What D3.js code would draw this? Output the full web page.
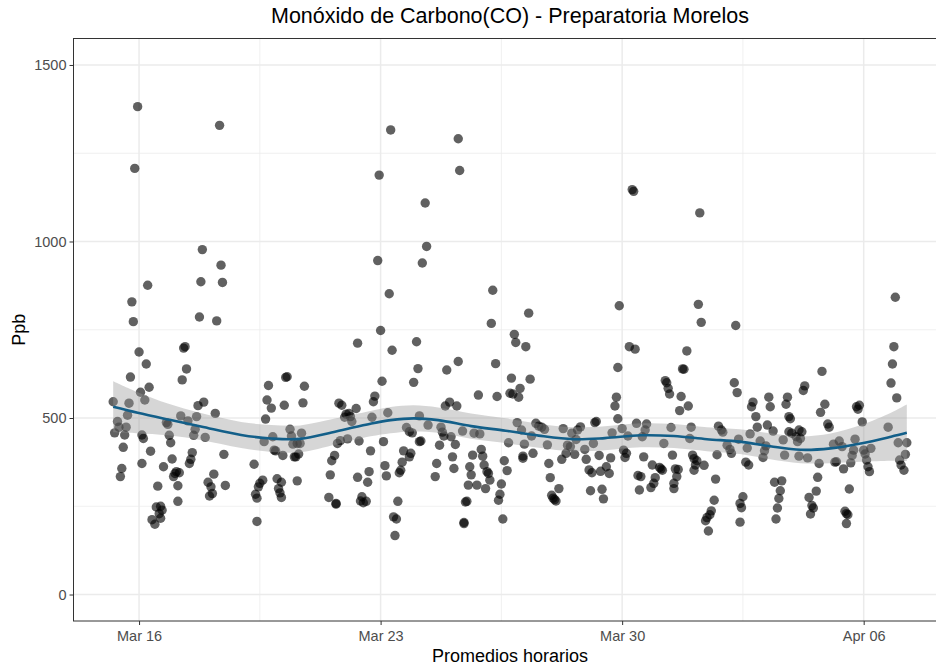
<!DOCTYPE html>
<html>
<head>
<meta charset="utf-8">
<script src="https://cdn.jsdelivr.net/npm/d3@7"></script>
<style>
  body { margin: 0; background: #fff; }
  text { font-family: "Liberation Sans", Arial, Helvetica, sans-serif; }
</style>
</head>
<body>
<svg id="chart" width="936" height="666"></svg>
<script>
// hourly CO readings: hours after Mar 15 00:00, and ppb
const obsHour = [
  23,21,68,81,30,67,82,19,20,66,78,24,29,55,56,57,54,18,31,25,28,6,17,16,9,10,7,15,14,65,69,77,53,58,64,43,44,63,62,70,45,46,26,27,13,32,83,61,60,59,47,41,26,12,11,50,49,52,48,37,51,76,72,74,75,73,84,51,36,39,40,38,39,33,35,80,
  176,127,126,114,139,113,116,125,138,112,163,165,175,168,170,171,167,172,129,117,111,137,130,131,134,136,118,119,135,133,132,124,162,164,169,177,160,158,185,104,110,108,107,105,106,120,123,134,121,122,123,157,176,184,183,156,161,161,179,178,180,182,106,199,246,
  191,247,223,224,221,190,198,270,269,192,217,200,246,238,272,218,193,215,188,187,186,260,273,240,237,245,197,219,225,210,212,214,234,235,236,249,241,257,261,194,220,219,233,244,208,213,212,256,262,263,242,207,231,195,206,205,254,255,264,266,267,268,278,196,230,243,253,259,265,276,275,274,204,252,251,201,203,250,250,277,202,
  367,368,295,358,285,286,293,365,369,357,283,296,289,282,284,288,356,355,357,287,300,302,304,306,342,341,370,319,331,329,325,360,353,290,297,281,292,308,322,324,328,340,334,364,361,363,321,327,291,291,298,318,344,352,362,335,309,280,337,339,345,349,351,310,371,316,311,313,314,312,338,346,347,372,
  414,413,415,439,405,402,403,390,391,392,393,438,440,401,406,400,451,450,462,463,453,377,376,374,394,408,427,429,430,454,461,465,407,441,449,456,389,433,435,436,447,460,459,375,395,409,410,412,417,426,446,448,458,381,386,387,388,373,383,382,380,397,399,398,396,396,410,411,425,466,424,444,442,443,422,421,419,418,420,442,
  550,549,548,547,551,499,487,486,475,474,501,498,476,477,503,504,525,524,523,527,476,478,483,485,481,484,472,482,511,507,522,545,552,558,533,528,529,521,520,513,473,483,489,497,509,508,514,519,530,531,532,557,553,554,556,496,471,470,469,468,467,495,490,492,493,491,518,515,516,517,516
];
const obsPpb = [
  1382,1207,977,933,876,886,884,829,773,786,775,687,653,698,702,639,608,616,587,573,551,546,542,508,490,474,458,474,452,535,545,513,506,492,504,487,482,468,451,445,451,430,452,442,417,406,397,402,383,371,384,362,371,357,334,348,343,345,334,307,308,341,318,305,286,279,309,264,248,250,239,229,216,212,199,1329,
  712,617,615,592,590,551,528,536,543,497,542,536,527,511,513,504,502,490,468,447,433,457,449,426,428,428,409,407,398,390,390,394,428,436,441,435,394,379,407,369,324,315,305,284,273,328,318,322,300,288,275,339,332,348,318,275,258,256,277,265,260,264,207,1316,1291,
  1188,1201,1109,986,939,946,852,862,768,748,716,692,660,636,654,640,604,601,562,546,502,565,561,545,534,534,515,506,480,473,461,458,474,460,449,463,447,457,455,433,435,433,423,425,407,400,390,395,411,392,390,375,371,365,352,345,362,339,367,348,343,324,379,336,334,357,310,310,300,313,284,267,264,264,262,220,214,204,201,214,167,
  1147,1142,797,818,737,714,702,702,695,643,613,610,584,570,568,559,559,534,498,487,485,477,474,468,490,487,485,470,475,466,457,470,458,466,449,430,426,424,423,419,439,428,411,449,409,400,400,397,392,386,400,383,394,387,388,383,371,351,353,345,349,362,343,331,337,300,281,269,265,273,294,298,271,296,
  1081,822,771,762,690,639,638,606,600,584,568,600,572,561,534,521,545,532,559,532,504,483,466,447,473,474,477,466,460,474,480,463,442,440,455,435,428,423,411,400,415,421,407,390,395,395,385,379,366,396,375,367,388,367,360,356,352,334,331,315,303,356,354,334,315,300,352,367,327,318,267,277,258,246,237,226,218,209,180,205,
  842,702,653,599,557,632,591,578,559,539,539,516,504,498,483,474,536,525,532,489,461,457,466,461,447,442,438,433,435,426,440,474,430,430,414,409,398,409,394,419,395,392,387,371,376,375,356,373,381,362,348,397,381,367,352,332,322,294,272,245,214,293,275,252,245,228,299,236,229,226,201
];

// loess smooth with its confidence band
const fitHour = [6, 23, 44, 67, 95, 116, 136, 161, 185, 199, 215, 232, 255, 279, 302, 326, 348, 373, 396, 419, 442, 463, 484, 505, 526, 547, 558];
const fitPpb = [532, 515, 496, 476, 452, 442, 441, 462, 484, 494, 499, 494, 477, 464, 450, 440, 443, 451, 449, 440, 433, 420, 410, 414, 428, 447, 458];
const fitSe = [72, 58, 45, 38, 37, 38, 38, 37, 36, 37, 37, 36, 36, 35, 34, 34, 34, 34, 34, 34, 35, 37, 38, 42, 52, 68, 80];

const yTicks = [0, 500, 1000, 1500];
const yMinor = [250, 750, 1250];
const xTickDays = ['2020-03-16', '2020-03-23', '2020-03-30', '2020-04-06'];
const xMinorDays = ['2020-03-19T12:00Z', '2020-03-26T12:00Z', '2020-04-02T12:00Z'];

const start = Date.UTC(2020, 2, 15);
const toDate = h => new Date(start + h * 3600e3);

const data = obsHour.map((h, i) => ({ t: toDate(h), v: obsPpb[i] }));
const fit = fitHour.map((h, i) => ({ t: toDate(h), v: fitPpb[i], lo: fitPpb[i] - fitSe[i], hi: fitPpb[i] + fitSe[i] }));

const pLeft = 73.5, pRight = 946.5, pTop = 38.5, pBottom = 621;

// ggplot-style 5% padding around the data range
const [h0, h1] = d3.extent(obsHour);
const pad = (h1 - h0) * 0.05;
const x = d3.scaleUtc().domain([toDate(h0 - pad), toDate(h1 + pad)]).range([pLeft, pRight]);
const y = d3.scaleLinear().domain([-75, 1575]).range([pBottom, pTop]);

const svg = d3.select('#chart');

svg.append('defs').append('clipPath').attr('id', 'panel')
  .append('rect').attr('x', pLeft).attr('y', pTop).attr('width', pRight - pLeft).attr('height', pBottom - pTop);

const grid = svg.append('g').attr('clip-path', 'url(#panel)');

// minor grid
yMinor.forEach(v => {
  grid.append('line').attr('x1', pLeft).attr('x2', pRight).attr('y1', y(v)).attr('y2', y(v))
    .attr('stroke', '#ebebeb').attr('stroke-width', 0.75);
});
xMinorDays.forEach(d => {
  const px = x(new Date(d));
  grid.append('line').attr('x1', px).attr('x2', px).attr('y1', pTop).attr('y2', pBottom)
    .attr('stroke', '#ebebeb').attr('stroke-width', 0.75);
});
// major grid
yTicks.forEach(v => {
  grid.append('line').attr('x1', pLeft).attr('x2', pRight).attr('y1', y(v)).attr('y2', y(v))
    .attr('stroke', '#ebebeb').attr('stroke-width', 1.5);
});
xTickDays.forEach(d => {
  const px = x(new Date(d));
  grid.append('line').attr('x1', px).attr('x2', px).attr('y1', pTop).attr('y2', pBottom)
    .attr('stroke', '#ebebeb').attr('stroke-width', 1.5);
});

// points
const plot = svg.append('g').attr('clip-path', 'url(#panel)');
plot.selectAll('circle')
  .data(data)
  .join('circle')
  .attr('cx', d => x(d.t))
  .attr('cy', d => y(d.v))
  .attr('r', 4.7)
  .attr('fill', '#000')
  .attr('fill-opacity', 0.62);

// smooth band + line
const area = d3.area()
  .x(d => x(d.t))
  .y0(d => y(d.lo))
  .y1(d => y(d.hi))
  .curve(d3.curveCatmullRom);
plot.append('path').datum(fit)
  .attr('d', area)
  .attr('fill', '#999999')
  .attr('fill-opacity', 0.4);

const line = d3.line()
  .x(d => x(d.t))
  .y(d => y(d.v))
  .curve(d3.curveCatmullRom);
plot.append('path').datum(fit)
  .attr('d', line)
  .attr('fill', 'none')
  .attr('stroke', '#135f89')
  .attr('stroke-width', 2.6);

// panel border
svg.append('rect')
  .attr('x', pLeft).attr('y', pTop)
  .attr('width', pRight - pLeft).attr('height', pBottom - pTop)
  .attr('fill', 'none').attr('stroke', '#333').attr('stroke-width', 1);

// axes
const yAxis = svg.append('g')
  .attr('transform', `translate(${pLeft},0)`)
  .call(d3.axisLeft(y).tickValues(yTicks).tickSize(4).tickPadding(3).tickFormat(d3.format('d')));
const xAxis = svg.append('g')
  .attr('transform', `translate(0,${pBottom})`)
  .call(d3.axisBottom(x).tickValues(xTickDays.map(d => new Date(d))).tickSize(4).tickPadding(5.5)
    .tickFormat(d3.utcFormat('%b %d')));

[yAxis, xAxis].forEach(g => {
  g.select('.domain').remove();
  g.selectAll('.tick line').attr('stroke', '#333');
  g.selectAll('.tick text').attr('fill', '#4d4d4d').style('font-size', '14.5px');
});

// titles
svg.append('text')
  .attr('x', 510).attr('y', 23)
  .attr('text-anchor', 'middle')
  .style('font-size', '21.5px')
  .attr('fill', '#000')
  .text('Monóxido de Carbono(CO) - Preparatoria Morelos');

svg.append('text')
  .attr('x', 510).attr('y', 662)
  .attr('text-anchor', 'middle')
  .style('font-size', '18px')
  .attr('fill', '#000')
  .text('Promedios horarios');

svg.append('text')
  .attr('transform', `translate(24.5,${(pTop + pBottom) / 2}) rotate(-90)`)
  .attr('text-anchor', 'middle')
  .style('font-size', '18px')
  .attr('fill', '#000')
  .text('Ppb');
</script>
</body>
</html>
